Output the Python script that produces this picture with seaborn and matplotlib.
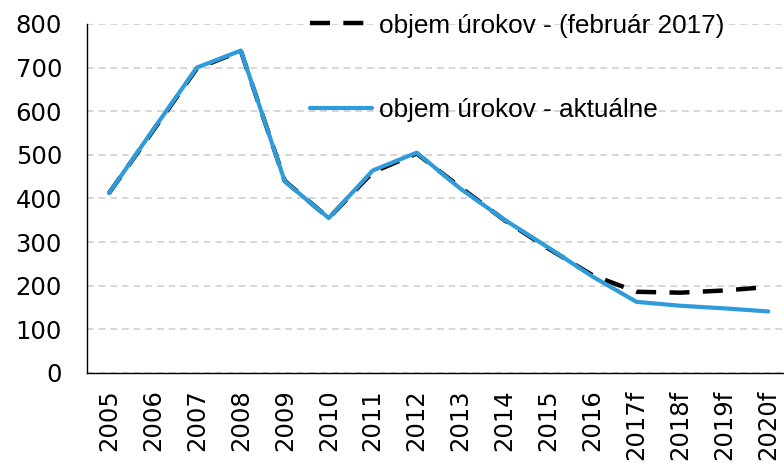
import pandas as pd
import seaborn as sns
import matplotlib.pyplot as plt

years = ["2005", "2006", "2007", "2008", "2009", "2010", "2011", "2012",
         "2013", "2014", "2015", "2016", "2017f", "2018f", "2019f", "2020f"]
feb2017 = [412, 555, 698, 738, 440, 355, 460, 503, 425, 350, 285, 224, 186, 184, 189, 197]
aktualne = [412, 557, 700, 739, 439, 355, 464, 505, 422, 351, 287, 221, 163, 154, 148, 141]

label_feb = "objem úrokov - (február 2017)"
label_akt = "objem úrokov - aktuálne"

sns.set_style("white")
plt.rcParams["font.family"] = ["Liberation Sans", "DejaVu Sans"]
plt.rcParams["text.color"] = "black"
plt.rcParams["xtick.color"] = "black"
plt.rcParams["ytick.color"] = "black"

fig = plt.figure(figsize=(7.84, 4.65), dpi=100)
ax = fig.add_axes([0.111, 0.198, 0.897, 0.7505])

sns.lineplot(x=years, y=feb2017, ax=ax, color="black", linewidth=3.2,
             dashes=False, label=label_feb)
ax.lines[-1].set_dashes([4.5, 3])
sns.lineplot(x=years, y=aktualne, ax=ax, color="#2F9BDB", linewidth=3.0,
             label=label_akt)

ax.set_xlim(-0.5, 15.5)
ax.set_ylim(0, 800)
ax.set_yticks(range(0, 801, 100))
ax.yaxis.grid(True, color="#d0d0d0", linestyle=(0, (4, 3)), linewidth=1.2)
ax.set_axisbelow(True)
ax.tick_params(axis="both", length=0, labelcolor="black")
ax.tick_params(axis="x", rotation=90, pad=12)
ax.tick_params(axis="y", pad=18)
for lab in ax.get_xticklabels() + ax.get_yticklabels():
    lab.set_fontfamily("DejaVu Sans")
    lab.set_fontsize(17.5)

for s in ["top", "right"]:
    ax.spines[s].set_visible(False)
for s in ["left", "bottom"]:
    ax.spines[s].set_color("black")
    ax.spines[s].set_linewidth(1.0)

leg = ax.legend(loc="upper left", bbox_to_anchor=(0.284, 1.097), frameon=False,
                fontsize=18.8, labelspacing=2.3, handlelength=2.35, handletextpad=0.3)
for t in leg.get_texts():
    t.set_color("black")

fig.savefig("out.png", dpi=100)
